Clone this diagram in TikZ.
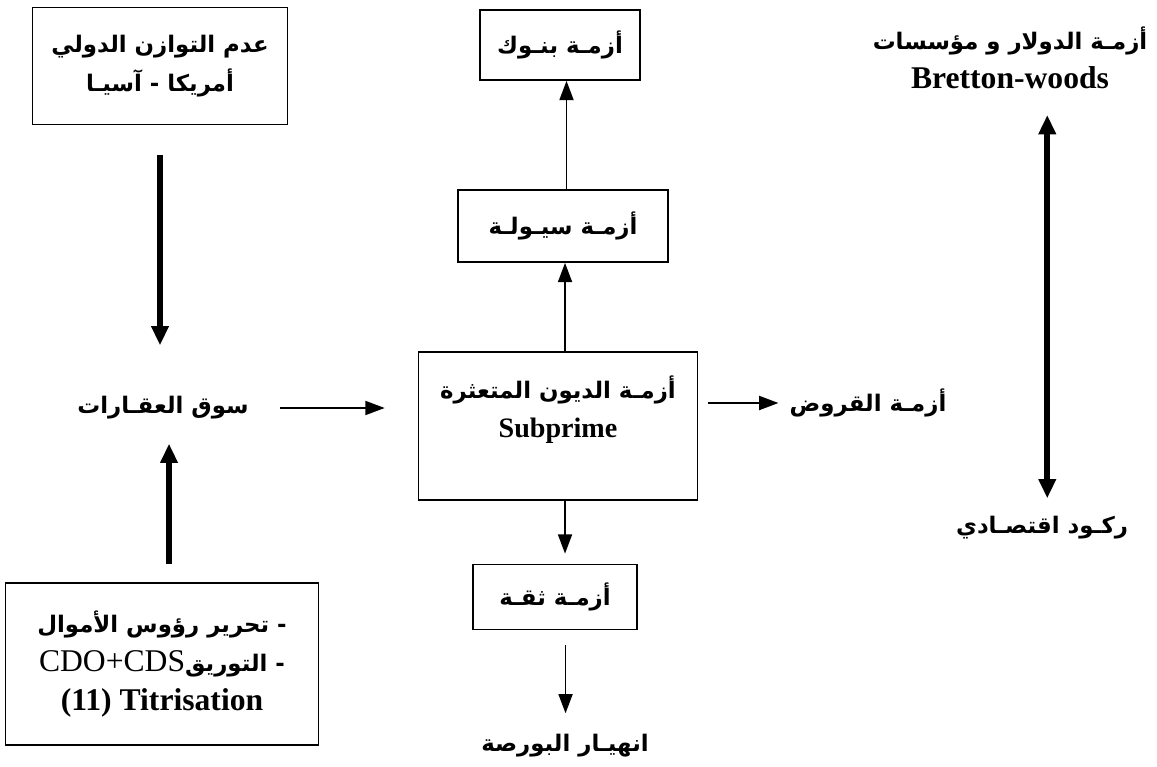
\documentclass[tikz,border=0pt]{standalone}
\usepackage{fontspec}
\setmainfont{Liberation Serif}
\newfontfamily\arabicfont[Script=Arabic]{DejaVu Sans}
\usetikzlibrary{arrows.meta}
\TeXXeTstate=1
\newcommand{\ar}[1]{{\arabicfont\bfseries\beginR #1\endR}}
\newcommand{\lat}[1]{{\fontsize{18}{22}\selectfont\bfseries #1}}

\begin{document}
\begin{tikzpicture}[x=0.02cm, y=-0.02cm,
    font=\fontsize{13}{22}\selectfont,
    box/.style={draw, line width=1pt, align=center, inner sep=0pt},
    lbl/.style={align=center},
    thin arrow/.style={-{Triangle[length=11pt,width=8pt]}, line width=1pt},
    fat arrow/.style={-{Triangle[length=11pt,width=9.5pt]}, line width=3.4pt},
    fat both/.style={{Triangle[length=11pt,width=9.5pt]}-{Triangle[length=11pt,width=9.5pt]}, line width=3.4pt}]
      \useasboundingbox (0,0) rectangle (1157,767);

      % left column
      \node [box, minimum width=5.1cm, minimum height=2.34cm] (imbal) at (160, 66)
        {\ar{عدم التوازن الدولي}\\ \ar{أمريكا - آسيـا}};
      \node [lbl] (market) at (163, 408) {\ar{سوق العقـارات}};
      \node [box, minimum width=6.26cm, minimum height=3.24cm] (liberal) at (162, 664)
        {\ar{- تحرير رؤوس الأموال}\\
         \ar{- التوريق\beginL{\normalfont\fontsize{18}{22}\selectfont CDO+CDS}\endL}\\
         \lat{(11) Titrisation}};

      % centre column
      \node [box, minimum width=5.58cm, minimum height=2.96cm] (subprime) at (558, 426)
        {\ar{أزمـة الديون المتعثرة}\\ {\fontsize{16}{22}\selectfont\bfseries Subprime}\\ \mbox{}};
      \node [box, minimum width=4.2cm, minimum height=1.44cm] (liquid) at (563, 226)
        {\ar{أزمـة سيـولـة}};
      \node [box, minimum width=3.2cm, minimum height=1.4cm] (banks) at (560, 45)
        {\ar{أزمـة بنـوك}};
      \node [box, minimum width=3.28cm, minimum height=1.3cm] (trust) at (555, 597)
        {\ar{أزمـة ثقـة}};
      \node [lbl] (crash) at (565, 746) {\ar{انهيـار البورصة}};
      \node [lbl] (loans) at (868, 403) {\ar{أزمـة القروض}};

      % right column
      \node [lbl] (dollar) at (1010, 58)
        {\ar{أزمـة الدولار و مؤسسات}\\ \lat{Bretton-woods}};
      \node [lbl] (recess) at (1042, 528) {\ar{ركـود اقتصـادي}};

      \draw [fat arrow, shorten <=0.6cm, shorten >=0.9cm] (imbal.south) -- (imbal.south |- market.north);
      \draw [fat arrow, shorten <=0.36cm, shorten >=0.36cm]
        ([xshift=4pt]liberal.north) -- ([xshift=4pt]liberal.north |- market.south);
      \draw [thin arrow, shorten <=0.5cm, shorten >=0.66cm] (market.east) -- (market.east -| subprime.west);
      \draw [thin arrow] ([xshift=4pt]subprime.north) -- ([xshift=4pt]subprime.north |- liquid.south);
      \draw [thin arrow] ([xshift=2pt]liquid.north) -- ([xshift=2pt]liquid.north |- banks.south);
      \draw [thin arrow, shorten <=0.2cm, shorten >=0.1cm] (subprime.east |- loans.west) -- (loans.west);
      \draw [thin arrow, shorten >=0.2cm] ([xshift=4pt]subprime.south) -- ([xshift=4pt]subprime.south |- trust.north);
      \draw [thin arrow, shorten <=0.3cm, shorten >=0.3cm] ([xshift=6pt]trust.south) -- ([xshift=6pt]trust.south |- crash.north);
      \draw [fat both, shorten <=0.4cm, shorten >=0.24cm] ([xshift=3pt]dollar.south -| recess.north) -- ([xshift=3pt]recess.north);
    \end{tikzpicture}
\end{document}
